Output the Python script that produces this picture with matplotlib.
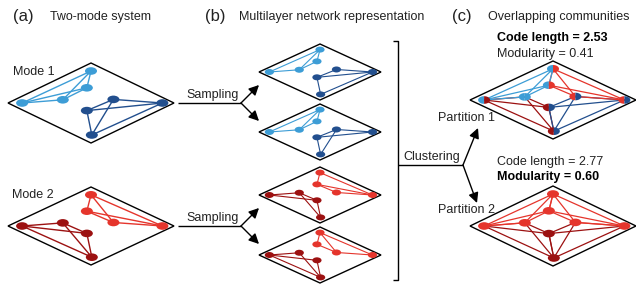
import numpy as np
import matplotlib
matplotlib.use("Agg")
import matplotlib.pyplot as plt
from matplotlib.patches import Polygon, Ellipse, FancyArrowPatch

plt.rcParams['font.family'] = ['Liberation Sans', 'DejaVu Sans']

# ---------------- data ----------------
node_names = ["T", "UM", "LM", "L", "RM", "R", "LoM", "B"]
node_u = [0.00, -0.05, -0.34, -0.83, 0.27, 0.86, -0.05, 0.01]
node_v = [-0.80, -0.38, -0.08, 0.00, -0.09, 0.00, 0.19, 0.80]

LB, DB, RD, DR = "#3d9dd6", "#224f8e", "#e5352c", "#9c1111"

def k4(a):
    return [(a[i], a[j]) for i in range(4) for j in range(i + 1, 4)]

mode1_light = k4([0, 1, 2, 3])
mode1_dark = k4([4, 5, 6, 7])
mode2_bright = k4([0, 1, 4, 5])
mode2_dark = k4([3, 2, 6, 7])

# sampled layers
layer1_light = [(0, 3), (0, 2), (0, 1), (1, 2), (2, 3)]
layer1_dark = [(6, 4), (4, 5), (6, 5), (5, 7), (6, 7)]
layer2_light = [(0, 3), (0, 2), (0, 1), (1, 2), (2, 3)]
layer2_dark = [(6, 4), (4, 5), (6, 5), (4, 7), (6, 7)]
layer3_bright = [(0, 1), (0, 5), (1, 4), (1, 5), (4, 5)]
layer3_dark = [(3, 2), (3, 6), (2, 6), (2, 7), (6, 7)]
layer4_bright = [(0, 1), (0, 4), (0, 5), (1, 4), (4, 5)]
layer4_dark = [(3, 2), (3, 6), (2, 7), (6, 7), (3, 7)]

mode1_colors = [LB, LB, LB, LB, DB, DB, DB, DB]
mode2_colors = [RD, RD, DR, DR, RD, RD, DR, DR]
part1_left = [LB, LB, LB, LB, RD, RD, DR, DR]
part1_right = [RD, RD, LB, DR, DB, DB, DB, DB]
part2_colors = [RD, RD, RD, RD, RD, RD, DR, DR]

# ---------------- layout ----------------
fig = plt.figure(figsize=(6.36, 2.87), dpi=100)
ax = fig.add_axes([0, 0, 1, 1])
ax.set_xlim(0, 636)
ax.set_ylim(287, 0)
ax.axis("off")

TXT = "#222222"

def diamond(cx, cy, w, h):
    ax.add_patch(Polygon([(cx - w, cy), (cx, cy - h), (cx + w, cy), (cx, cy + h)],
                         closed=True, fill=True, facecolor="white",
                         edgecolor="black", lw=1.0, zorder=1))

def pos(cx, cy, w, h, i):
    return cx + node_u[i] * w, cy + node_v[i] * h

def edges(cx, cy, w, h, elist, color, lw=0.8):
    for a, b in elist:
        xa, ya = pos(cx, cy, w, h, a)
        xb, yb = pos(cx, cy, w, h, b)
        ax.plot([xa, xb], [ya, yb], color=color, lw=lw, zorder=2,
                solid_capstyle="round")

def nodes(cx, cy, w, h, idx, colors, rx, ry, right_colors=None):
    for i in idx:
        x, y = pos(cx, cy, w, h, i)
        if right_colors is None:
            ax.add_patch(Ellipse((x, y), 2 * rx, 2 * ry, facecolor=colors[i],
                                 edgecolor="none", zorder=3))
        else:
            t = np.linspace(np.pi / 2, 3 * np.pi / 2, 30)
            left = np.c_[x + rx * np.cos(t), y + ry * np.sin(t)]
            t2 = np.linspace(-np.pi / 2, np.pi / 2, 30)
            right = np.c_[x + rx * np.cos(t2), y + ry * np.sin(t2)]
            ax.add_patch(Polygon(left, closed=True, facecolor=colors[i],
                                 edgecolor="none", zorder=3))
            ax.add_patch(Polygon(right, closed=True, facecolor=right_colors[i],
                                 edgecolor="none", zorder=3))

# ---- panel (a) ----
A1 = (91, 103, 83, 40)
A2 = (91, 226, 83, 39)
diamond(*A1)
edges(*A1, mode1_light, LB, 1.0)
edges(*A1, mode1_dark, DB, 1.0)
nodes(*A1, range(8), mode1_colors, 6, 3.8)
diamond(*A2)
edges(*A2, mode2_bright, RD, 1.0)
edges(*A2, mode2_dark, DR, 1.0)
nodes(*A2, range(8), mode2_colors, 6, 3.8)

# ---- panel (b) ----
bcy = [72, 132, 195, 255]
blayers = [
    (layer1_light, LB, layer1_dark, DB, mode1_colors),
    (layer2_light, LB, layer2_dark, DB, mode1_colors),
    (layer3_bright, RD, layer3_dark, DR, mode2_colors),
    (layer4_bright, RD, layer4_dark, DR, mode2_colors),
]
for cy, (e1, c1, e2, c2, nc) in zip(bcy, blayers):
    D = (320, cy, 61, 28)
    diamond(*D)
    edges(*D, e1, c1, 0.8)
    edges(*D, e2, c2, 0.8)
    nodes(*D, range(8), nc, 4.6, 3.0)

# ---- panel (c) ----
C1 = (553, 100, 83, 39)
C2 = (553, 226, 83, 40)
diamond(*C1)
edges(*C1, mode2_dark, DR, 0.9)
edges(*C1, mode1_dark, DB, 0.9)
edges(*C1, mode2_bright, RD, 0.9)
edges(*C1, mode1_light, LB, 0.9)
nodes(*C1, range(8), part1_left, 6, 3.8, right_colors=part1_right)

diamond(*C2)
all_edges = mode1_light + mode1_dark + mode2_bright + mode2_dark
top_group = {0, 1, 2, 3, 4, 5}
e_bright = [e for e in all_edges if e[0] in top_group and e[1] in top_group]
e_dark = [e for e in all_edges if not (e[0] in top_group and e[1] in top_group)]
edges(*C2, e_dark, DR, 0.9)
edges(*C2, e_bright, RD, 0.9)
nodes(*C2, range(8), part2_colors, 6, 3.8)

# ---------------- arrows / lines ----------------
def line(pts, lw=1.0):
    xs, ys = zip(*pts)
    ax.plot(xs, ys, color="black", lw=lw, zorder=2, solid_capstyle="butt")

def arrow(p0, p1):
    ax.add_patch(FancyArrowPatch(p0, p1, arrowstyle="-|>,head_length=0.6,head_width=0.3",
                                 mutation_scale=10, color="black", lw=1.0,
                                 shrinkA=0, shrinkB=0, zorder=2))

for y in (103, 226):
    line([(178, y), (241, y)])
    arrow((241, y), (259, y - 18))
    arrow((241, y), (259, y + 18))

line([(393, 41), (398, 41), (398, 280), (393, 280)])
line([(398, 165), (463, 165)])
arrow((463, 165), (478, 128))
arrow((463, 165), (477, 203))

# ---------------- text ----------------
fs = 9
ax.text(13, 17, "(a)", fontsize=12, color=TXT, va="center", ha="left")
ax.text(50, 17, "Two-mode system", fontsize=fs, color=TXT, va="center", ha="left")
ax.text(205, 17, "(b)", fontsize=12, color=TXT, va="center", ha="left")
ax.text(239, 17, "Multilayer network representation", fontsize=fs, color=TXT,
        va="center", ha="left")
ax.text(452, 17, "(c)", fontsize=12, color=TXT, va="center", ha="left")
ax.text(488, 17, "Overlapping communities", fontsize=fs, color=TXT, va="center", ha="left")

ax.text(497, 38, "Code length = 2.53", fontsize=fs, color="black", fontweight="bold",
        va="center", ha="left")
ax.text(497, 54, "Modularity = 0.41", fontsize=fs, color=TXT, va="center", ha="left")
ax.text(497, 162, "Code length = 2.77", fontsize=fs, color=TXT, va="center", ha="left")
ax.text(497, 177, "Modularity = 0.60", fontsize=fs, color="black", fontweight="bold",
        va="center", ha="left")

ax.text(13, 72, "Mode 1", fontsize=fs, color=TXT, va="center", ha="left")
ax.text(12, 195, "Mode 2", fontsize=fs, color=TXT, va="center", ha="left")
ax.text(186, 95, "Sampling", fontsize=fs, color=TXT, va="center", ha="left")
ax.text(186, 218, "Sampling", fontsize=fs, color=TXT, va="center", ha="left")
ax.text(403, 157, "Clustering", fontsize=fs, color=TXT, va="center", ha="left")
ax.text(438, 118, "Partition 1", fontsize=fs, color=TXT, va="center", ha="left")
ax.text(438, 210, "Partition 2", fontsize=fs, color=TXT, va="center", ha="left")

fig.savefig("out.png", dpi=100)
